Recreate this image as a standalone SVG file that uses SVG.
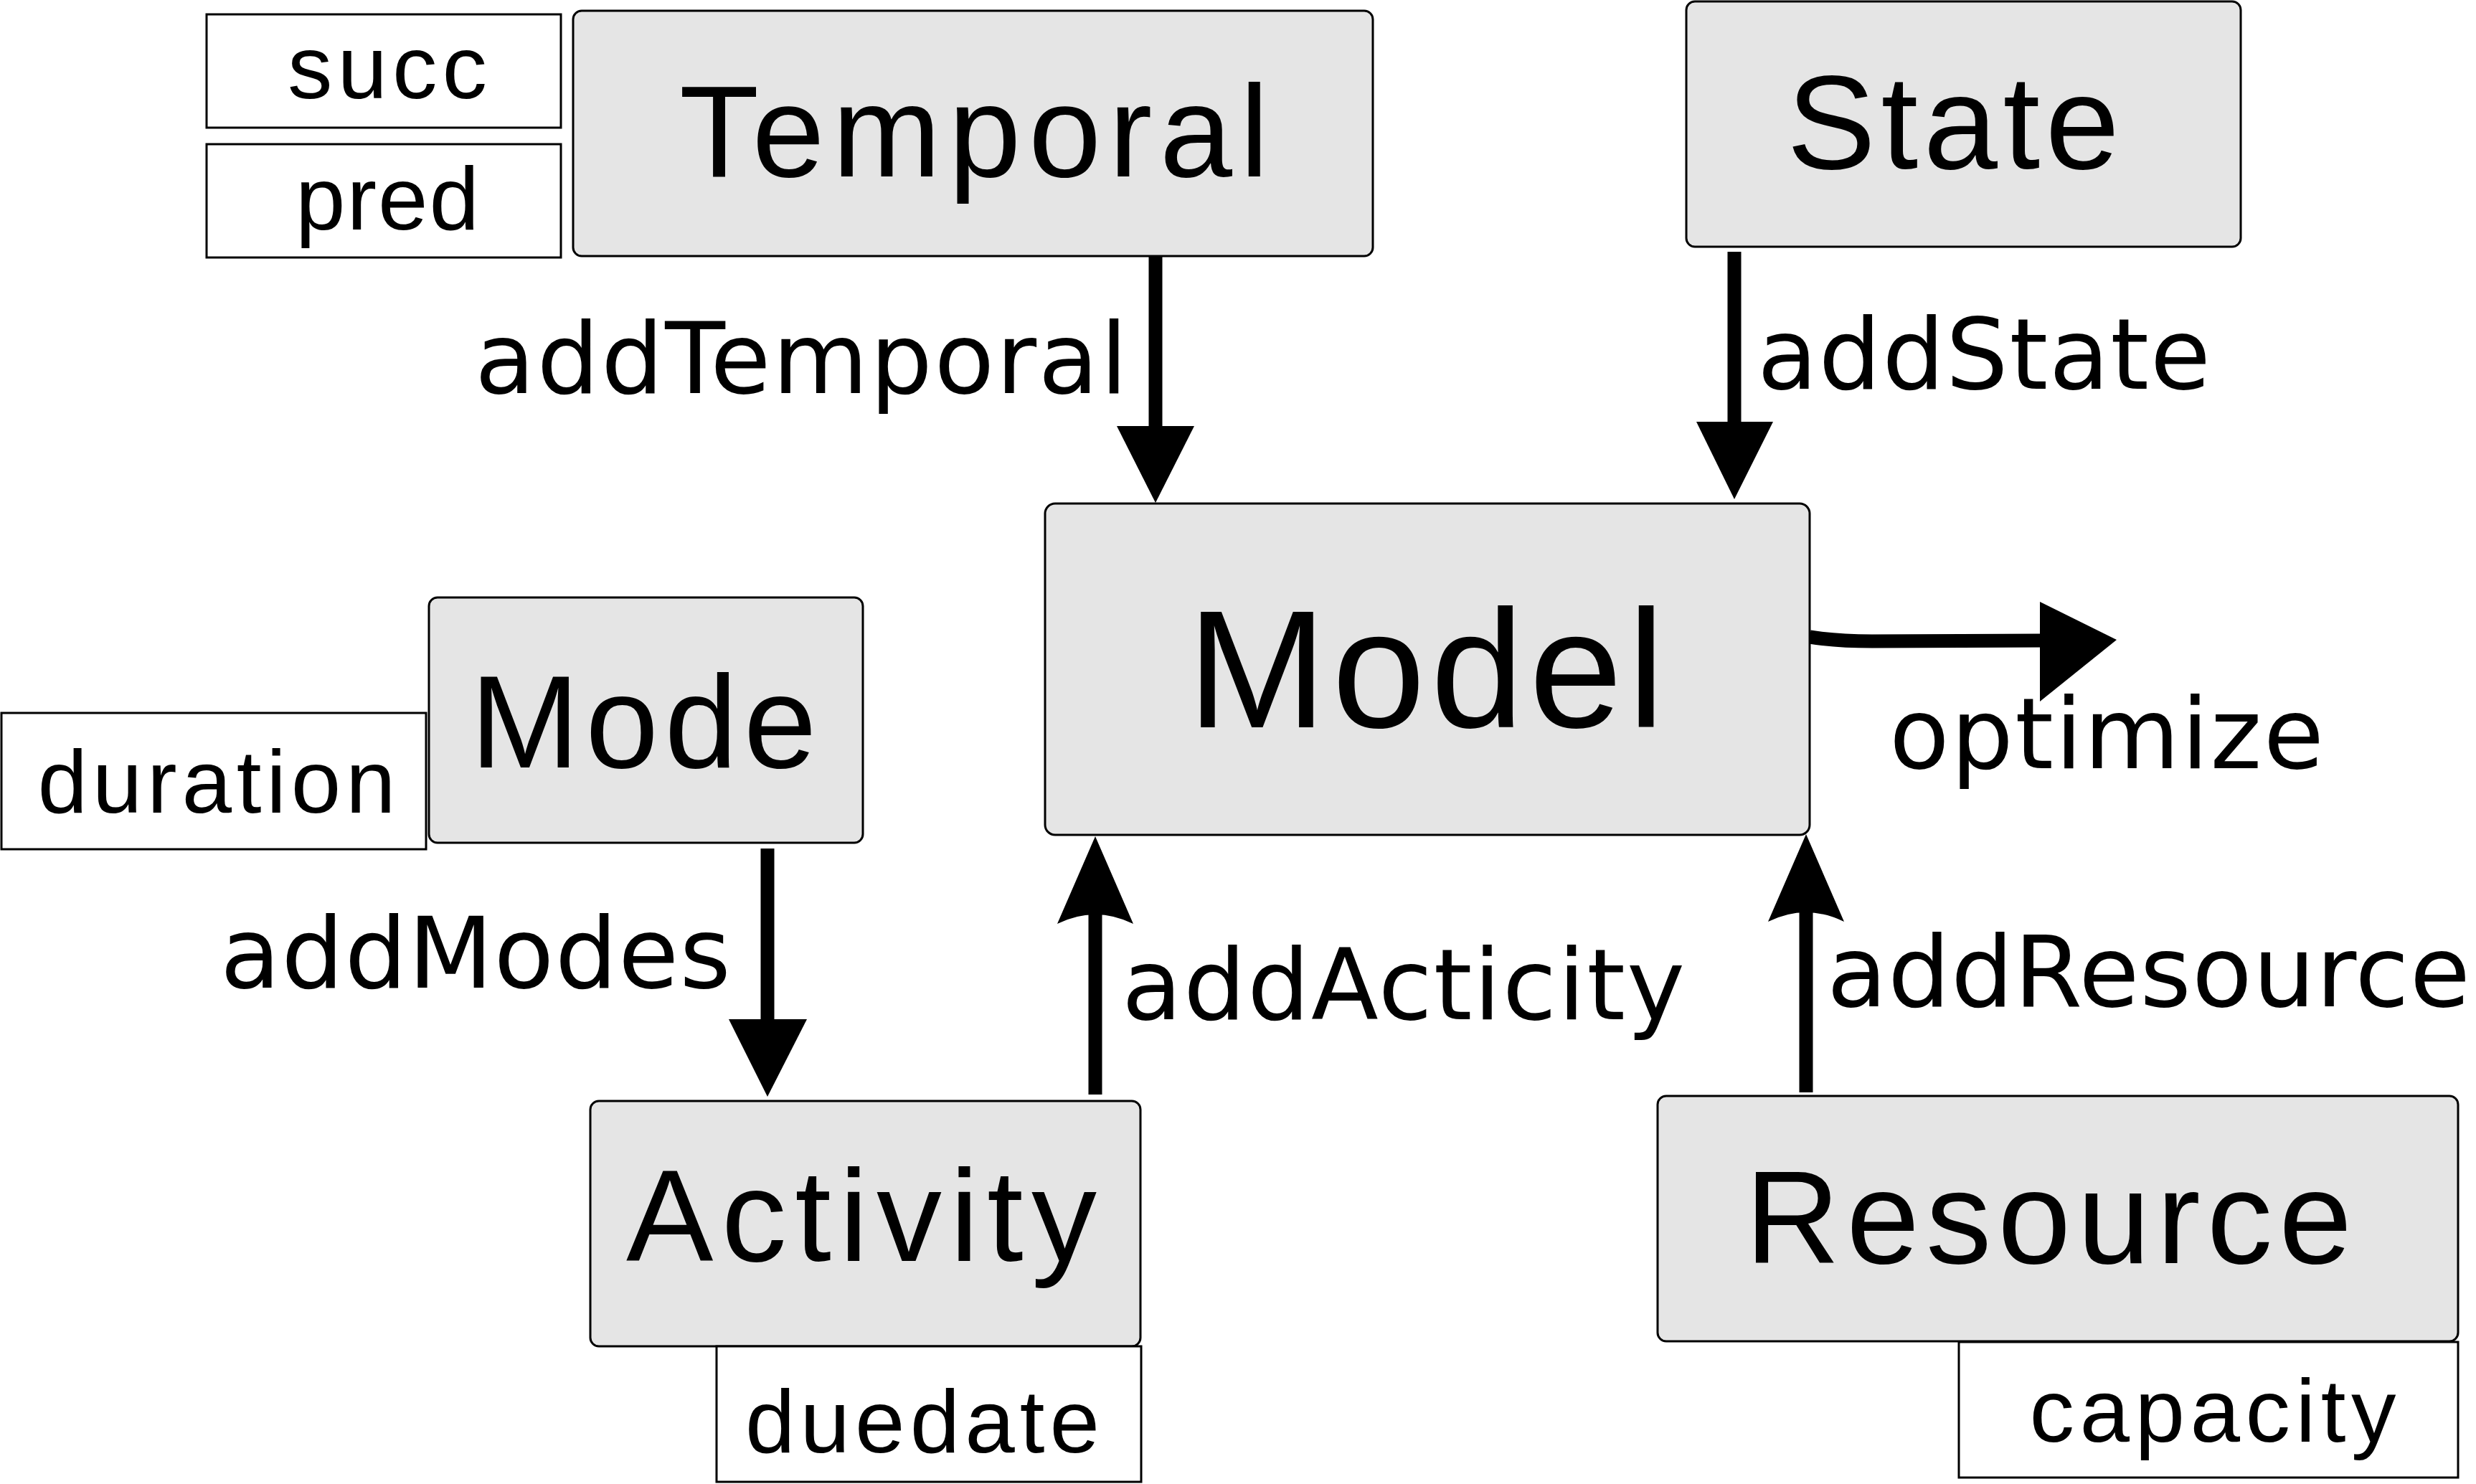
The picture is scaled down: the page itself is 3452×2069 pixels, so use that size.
<svg xmlns="http://www.w3.org/2000/svg" width="3452" height="2069" viewBox="0 0 3452 2069">
<style>
.node{fill:#e5e5e5;stroke:#000;stroke-width:3}
.attr{fill:#fff;stroke:#000;stroke-width:3}
.title{font-family:"Liberation Sans",Arial,sans-serif;fill:#000;text-anchor:middle}
.atxt{font-family:"Liberation Sans",Arial,sans-serif;fill:#000;text-anchor:middle;font-size:125px}
.lbl{font-family:"DejaVu Sans",sans-serif;font-size:137px;fill:#000}
.ln{stroke:#000;stroke-width:19;fill:none}
.hd{fill:#000;stroke:none}
</style>
<rect width="3452" height="2069" fill="#fff"/>
<g id="connectors">
  <line class="ln" x1="1611" y1="357" x2="1611" y2="600"/>
  <polygon class="hd" points="1557,594 1665,594 1611,701"/>
  <line class="ln" x1="2418" y1="351" x2="2418" y2="594"/>
  <polygon class="hd" points="2365,588 2472,588 2418,696"/>
  <line class="ln" x1="1070" y1="1183" x2="1070" y2="1427"/>
  <polygon class="hd" points="1016,1421 1125,1421 1070,1529"/>
  <line class="ln" x1="1527" y1="1526" x2="1527" y2="1270"/>
  <path class="hd" d="M1527,1166 L1580,1288 Q1527,1262 1474,1288 Z"/>
  <line class="ln" x1="2518" y1="1523" x2="2518" y2="1268"/>
  <path class="hd" d="M2518,1163 L2571,1285 Q2518,1259 2465,1285 Z"/>
  <path class="ln" d="M2523,888 Q2560,894 2610,894 L2850,893"/>
  <polygon class="hd" points="2844,839 2844,978 2951,892"/>
  <text class="lbl" x="662" y="548" textLength="910" lengthAdjust="spacing">addTemporal</text>
  <text class="lbl" x="2450" y="542" textLength="632" lengthAdjust="spacing">addState</text>
  <text class="lbl" x="2634" y="1071" textLength="606" lengthAdjust="spacing">optimize</text>
  <text class="lbl" x="307" y="1377" textLength="712" lengthAdjust="spacing">addModes</text>
  <text class="lbl" x="1564" y="1421" textLength="785" lengthAdjust="spacing">addActicity</text>
  <text class="lbl" x="2547" y="1403" textLength="897" lengthAdjust="spacing">addResource</text>
</g>
<g id="temporal">
  <rect class="node" x="799" y="15" width="1115" height="342" rx="12"/>
  <text class="title" x="1358" y="246" font-size="182" textLength="822" lengthAdjust="spacing">Temporal</text>
</g>
<g id="succ">
  <rect class="attr" x="288" y="20" width="494" height="158"/>
  <text class="atxt" x="540" y="137" font-size="123" textLength="278" lengthAdjust="spacing">succ</text>
</g>
<g id="pred">
  <rect class="attr" x="288" y="201" width="494" height="158"/>
  <text class="atxt" x="540" y="320" textLength="256" lengthAdjust="spacing">pred</text>
</g>
<g id="state">
  <rect class="node" x="2351" y="2" width="773" height="342" rx="12"/>
  <text class="title" x="2723" y="235" font-size="186" textLength="464" lengthAdjust="spacing">State</text>
</g>
<g id="model">
  <rect class="node" x="1457" y="702" width="1066" height="462" rx="14"/>
  <text class="title" x="1988" y="1014" font-size="234" textLength="666" lengthAdjust="spacing">Model</text>
</g>
<g id="mode">
  <rect class="node" x="598" y="833" width="605" height="342" rx="12"/>
  <text class="title" x="897" y="1070" font-size="183" textLength="483" lengthAdjust="spacing">Mode</text>
</g>
<g id="duration">
  <rect class="attr" x="2" y="994" width="592" height="190"/>
  <text class="atxt" x="302" y="1133" font-size="127" textLength="499" lengthAdjust="spacing">duration</text>
</g>
<g id="activity">
  <rect class="node" x="823" y="1535" width="767" height="342" rx="12"/>
  <text class="title" x="1201" y="1758" font-size="182" textLength="656" lengthAdjust="spacing">Activity</text>
</g>
<g id="duedate">
  <rect class="attr" x="999" y="1877" width="592" height="189"/>
  <text class="atxt" x="1286" y="2025" textLength="494" lengthAdjust="spacing">duedate</text>
</g>
<g id="resource">
  <rect class="node" x="2311" y="1528" width="1116" height="342" rx="12"/>
  <text class="title" x="2856" y="1761" font-size="183" textLength="846" lengthAdjust="spacing">Resource</text>
</g>
<g id="capacity">
  <rect class="attr" x="2731" y="1871" width="696" height="189"/>
  <text class="atxt" x="3085" y="2010" font-size="127" textLength="511" lengthAdjust="spacing">capacity</text>
</g>
</svg>
